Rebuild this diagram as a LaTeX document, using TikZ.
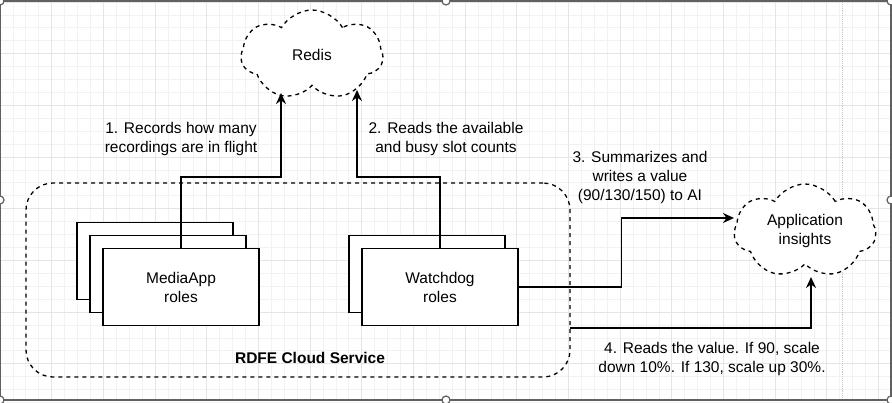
\documentclass[tikz,border=0pt]{standalone}
\usepackage{fontspec}
\setmainfont{Liberation Sans}
\usetikzlibrary{shapes.symbols,arrows.meta}

\newcommand{\stackoff}{13}
\newcommand{\gridgap}{12.92}

\tikzset{
  gridline/.style={draw=gray!10, line width=0.8},
  gridmajor/.style={draw=gray!20, line width=0.8},
  rolebox/.style={draw, fill=white, line width=1.3, minimum width=156, minimum height=77, inner sep=0, align=center},
  skycloud/.style={cloud, cloud puffs=7, cloud puff arc=120, cloud ignores aspect, draw, fill=white, dashed, dash pattern=on 4pt off 4pt, line width=1.3, align=center},
  flow/.style={line width=1.5, -{Stealth[length=11pt,width=10pt]}},
  note/.style={align=center}
}

\begin{document}
\begin{tikzpicture}[x=1pt, y=-1pt, font=\fontsize{15.5}{19}\selectfont]
     \useasboundingbox (0,0) rectangle (892,402);

     % grid of the page
     \foreach \g in {0,...,69}
       \draw[gridline] (\g*\gridgap,0) -- (\g*\gridgap,400);
     \foreach \g in {0,...,31}
       \draw[gridline] (0,2+\g*\gridgap) -- (891,2+\g*\gridgap);
     \foreach \g in {0,4,...,68}
       \draw[gridmajor] (\g*\gridgap,0) -- (\g*\gridgap,400);
     \foreach \g in {0,4,...,28}
       \draw[gridmajor] (0,2+\g*\gridgap) -- (891,2+\g*\gridgap);
     \draw[gray!45, densely dotted, line width=0.9] (842,0) -- (842,400);

     % service boundary
     \node[draw, dashed, dash pattern=on 4pt off 4pt, line width=1.3, rounded corners=27,
           minimum width=544, minimum height=194] (rdfe) at (298,280) {};
     \node[font=\fontsize{15.5}{19}\selectfont\bfseries] (rdfelabel) at (310,358) {RDFE Cloud Service};

     % stacked roles
     \foreach \cx/\copies in {181/2,440/1}
       \foreach \k in {\copies,...,1}
         \node[rolebox] at (\cx-\k*\stackoff, 287-\k*\stackoff) {};
     \node[rolebox] (media) at (181,287) {MediaApp\\roles};
     \node[rolebox] (watch) at (440,287) {Watchdog\\roles};

     % clouds
     \node[skycloud, minimum width=142, minimum height=90] (redis) at (312,55) {Redis};
     \node[skycloud, minimum width=142, minimum height=94] (appins) at (805,231) {Application\\insights};

     \coordinate (redisin1) at (281,93);
     \coordinate (redisin2) at (357,90);
     \coordinate (appin3) at (734,218);
     \coordinate (appin4) at (811,277);
     \coordinate (rdfeout) at (570,328);

     \draw[flow] (media.north) -- ++(0,-71) -| (redisin1);
     \draw[flow] (watch.north) -- ++(0,-71) -| (redisin2);
     \draw[flow] (watch.east) -- ++(103,0) |- (appin3);
     \draw[flow] (rdfeout) -| (appin4);

     \node[note] (step1) at (181,138.5) {1. Records how many\\recordings are in flight};
     \node[note] (step2) at (446,138.5) {2. Reads the available\\and busy slot counts};
     \node[note] (step3) at (640,177) {3. Summarizes and\\writes a value\\(90/130/150) to AI};
     \node[note] (step4) at (712,358.5) {4. Reads the value. If 90, scale\\down 10\%. If 130, scale up 30\%.};

     % frame of the selection
     \draw[gray!75!black, line width=1.4] (0,1) rectangle (891,400);
     \foreach \hx/\hy in {0/1,446/1,891/1,0/200,891/200,0/400,446/400,891/400}
       \draw[gray!75!black, fill=white, line width=1.2] (\hx,\hy) circle (4);
   \end{tikzpicture}
\end{document}
